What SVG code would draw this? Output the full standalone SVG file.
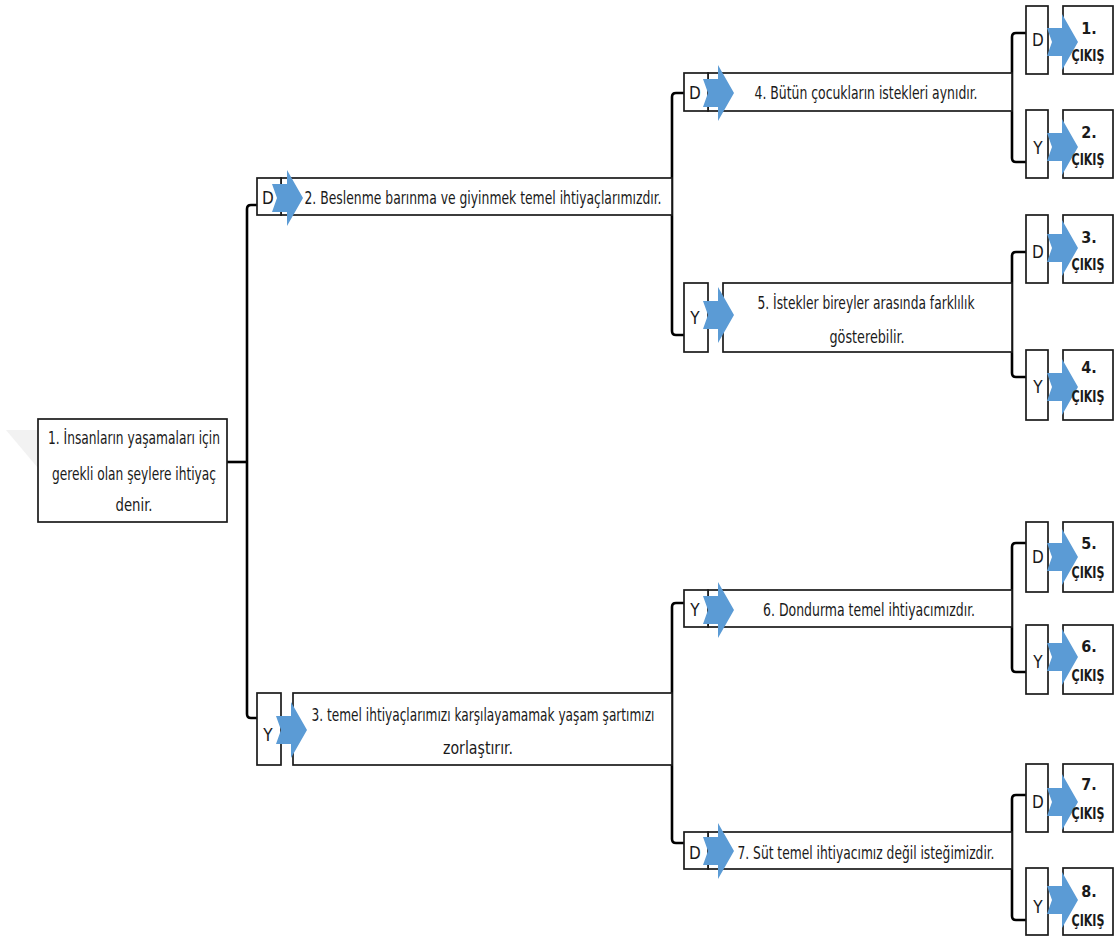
<svg xmlns="http://www.w3.org/2000/svg" xmlns:xlink="http://www.w3.org/1999/xlink" width="1118" height="942" viewBox="0 0 1118 942">
<style>
.bx{fill:#fff;stroke:#1a1a1a;stroke-width:1.7}
.t{font-family:'Liberation Sans Narrow','DejaVu Sans Condensed','Open Sans',sans-serif;font-size:17px;fill:#1a1a1a;text-anchor:middle}
.b{font-weight:bold;font-size:16px}
.c{fill:none;stroke:#000;stroke-width:2.6;stroke-linejoin:round}
.ar{fill:#5b9bd5}
</style>
<defs>
<path id="arr" d="M0,-14 L15,-14 L15,-28 L31,0 L15,28 L15,14 L0,14 L5,0 Z"/>
</defs>
<rect width="1118" height="942" fill="#fff"/>
<polygon points="6,430 38,430 38,468" fill="#f2f2f2"/>
<g id="connectors">
<path class="c" d="M227,462 H247" stroke-width="4"/>
<path class="c" d="M257,205 H251 Q247,205 247,209 V714 Q247,718 251,718 H257"/>
<path class="c" d="M684,93 H676 Q672,93 672,97 V331 Q672,335 676,335 H684"/>
<path class="c" d="M684,603 H676 Q672,603 672,607 V839 Q672,843 676,843 H684"/>
<path class="c" d="M1026,33 H1016 Q1012,33 1012,37 V158 Q1012,162 1016,162 H1026"/>
<path class="c" d="M1026,252 H1016 Q1012,252 1012,256 V373 Q1012,377 1016,377 H1026"/>
<path class="c" d="M1026,543 H1016 Q1012,543 1012,547 V668 Q1012,672 1016,672 H1026"/>
<path class="c" d="M1026,795 H1016 Q1012,795 1012,799 V916 Q1012,920 1016,920 H1026"/>
</g>
<g id="n1">
<rect class="bx" x="38" y="419" width="189" height="103"/>
<text class="t" x="134" y="444" textLength="172" lengthAdjust="spacingAndGlyphs">1. İnsanların yaşamaları için</text>
<text class="t" x="134" y="480" textLength="164" lengthAdjust="spacingAndGlyphs">gerekli olan şeylere ihtiyaç</text>
<text class="t" x="134" y="511" textLength="37" lengthAdjust="spacingAndGlyphs">denir.</text>
</g>
<g id="n2">
<rect class="bx" x="281" y="178" width="391" height="37"/>
<rect class="bx" x="257" y="178" width="24" height="37"/>
<text class="t" x="268" y="204">D</text>
<use href="#arr" class="ar" transform="translate(272,198)"/>
<text class="t" x="483" y="204" textLength="357" lengthAdjust="spacingAndGlyphs">2. Beslenme barınma ve giyinmek temel ihtiyaçlarımızdır.</text>
</g>
<g id="n3">
<rect class="bx" x="293" y="693" width="379" height="72"/>
<rect class="bx" x="257" y="693" width="24" height="72"/>
<text class="t" x="268" y="741">Y</text>
<use href="#arr" class="ar" transform="translate(276,730)"/>
<text class="t" x="483" y="721" textLength="343" lengthAdjust="spacingAndGlyphs">3. temel ihtiyaçlarımızı karşılayamamak yaşam şartımızı</text>
<text class="t" x="478" y="754" textLength="70" lengthAdjust="spacingAndGlyphs">zorlaştırır.</text>
</g>
<g id="n4">
<rect class="bx" x="708" y="73" width="304" height="38"/>
<rect class="bx" x="684" y="73" width="24" height="38"/>
<text class="t" x="695" y="99">D</text>
<use href="#arr" class="ar" transform="translate(703,93)"/>
<text class="t" x="866" y="99" textLength="223" lengthAdjust="spacingAndGlyphs">4. Bütün çocukların istekleri aynıdır.</text>
</g>
<g id="n5">
<rect class="bx" x="723" y="283" width="289" height="69"/>
<rect class="bx" x="684" y="283" width="24" height="69"/>
<text class="t" x="695" y="324">Y</text>
<use href="#arr" class="ar" transform="translate(703,315)"/>
<text class="t" x="866" y="309" textLength="217" lengthAdjust="spacingAndGlyphs">5. İstekler bireyler arasında farklılık</text>
<text class="t" x="867" y="343" textLength="75" lengthAdjust="spacingAndGlyphs">gösterebilir.</text>
</g>
<g id="n6">
<rect class="bx" x="708" y="590" width="304" height="37"/>
<rect class="bx" x="684" y="590" width="24" height="37"/>
<text class="t" x="695" y="616">Y</text>
<use href="#arr" class="ar" transform="translate(703,610)"/>
<text class="t" x="869" y="616" textLength="212" lengthAdjust="spacingAndGlyphs">6. Dondurma temel ihtiyacımızdır.</text>
</g>
<g id="n7">
<rect class="bx" x="708" y="832" width="304" height="37"/>
<rect class="bx" x="684" y="832" width="24" height="37"/>
<text class="t" x="695" y="859">D</text>
<use href="#arr" class="ar" transform="translate(703,851)"/>
<text class="t" x="866" y="859" textLength="257" lengthAdjust="spacingAndGlyphs">7. Süt temel ihtiyacımız değil isteğimizdir.</text>
</g>
<g id="e1">
<rect class="bx" x="1026" y="6" width="22" height="68"/><rect class="bx" x="1063" y="6" width="50" height="68"/>
<text class="t" x="1038" y="46">D</text>
<use href="#arr" class="ar" transform="translate(1047,42)"/>
<text class="t b" x="1089" y="34">1.</text><text class="t b" x="1088" y="61" textLength="33" lengthAdjust="spacingAndGlyphs">ÇIKIŞ</text>
</g>
<g id="e2">
<rect class="bx" x="1026" y="110" width="22" height="68"/><rect class="bx" x="1063" y="110" width="50" height="68"/>
<text class="t" x="1038" y="154">Y</text>
<use href="#arr" class="ar" transform="translate(1047,147)"/>
<text class="t b" x="1089" y="138">2.</text><text class="t b" x="1088" y="165" textLength="33" lengthAdjust="spacingAndGlyphs">ÇIKIŞ</text>
</g>
<g id="e3">
<rect class="bx" x="1026" y="215" width="22" height="68"/><rect class="bx" x="1063" y="215" width="50" height="68"/>
<text class="t" x="1038" y="258">D</text>
<use href="#arr" class="ar" transform="translate(1047,248)"/>
<text class="t b" x="1089" y="243">3.</text><text class="t b" x="1088" y="270" textLength="33" lengthAdjust="spacingAndGlyphs">ÇIKIŞ</text>
</g>
<g id="e4">
<rect class="bx" x="1026" y="350" width="22" height="70"/><rect class="bx" x="1063" y="350" width="50" height="70"/>
<text class="t" x="1038" y="393">Y</text>
<use href="#arr" class="ar" transform="translate(1047,387)"/>
<text class="t b" x="1089" y="373">4.</text><text class="t b" x="1088" y="402" textLength="33" lengthAdjust="spacingAndGlyphs">ÇIKIŞ</text>
</g>
<g id="e5">
<rect class="bx" x="1026" y="522" width="22" height="70"/><rect class="bx" x="1063" y="522" width="50" height="70"/>
<text class="t" x="1038" y="563">D</text>
<use href="#arr" class="ar" transform="translate(1047,557)"/>
<text class="t b" x="1089" y="549">5.</text><text class="t b" x="1088" y="578" textLength="33" lengthAdjust="spacingAndGlyphs">ÇIKIŞ</text>
</g>
<g id="e6">
<rect class="bx" x="1026" y="625" width="22" height="69"/><rect class="bx" x="1063" y="625" width="50" height="69"/>
<text class="t" x="1038" y="668">Y</text>
<use href="#arr" class="ar" transform="translate(1047,657)"/>
<text class="t b" x="1089" y="652">6.</text><text class="t b" x="1088" y="681" textLength="33" lengthAdjust="spacingAndGlyphs">ÇIKIŞ</text>
</g>
<g id="e7">
<rect class="bx" x="1026" y="764" width="22" height="68"/><rect class="bx" x="1063" y="764" width="50" height="68"/>
<text class="t" x="1038" y="808">D</text>
<use href="#arr" class="ar" transform="translate(1047,802)"/>
<text class="t b" x="1089" y="790">7.</text><text class="t b" x="1088" y="819" textLength="33" lengthAdjust="spacingAndGlyphs">ÇIKIŞ</text>
</g>
<g id="e8">
<rect class="bx" x="1026" y="868" width="22" height="67"/><rect class="bx" x="1063" y="868" width="50" height="67"/>
<text class="t" x="1038" y="913">Y</text>
<use href="#arr" class="ar" transform="translate(1047,900)"/>
<text class="t b" x="1089" y="897">8.</text><text class="t b" x="1088" y="926" textLength="33" lengthAdjust="spacingAndGlyphs">ÇIKIŞ</text>
</g>
</svg>
